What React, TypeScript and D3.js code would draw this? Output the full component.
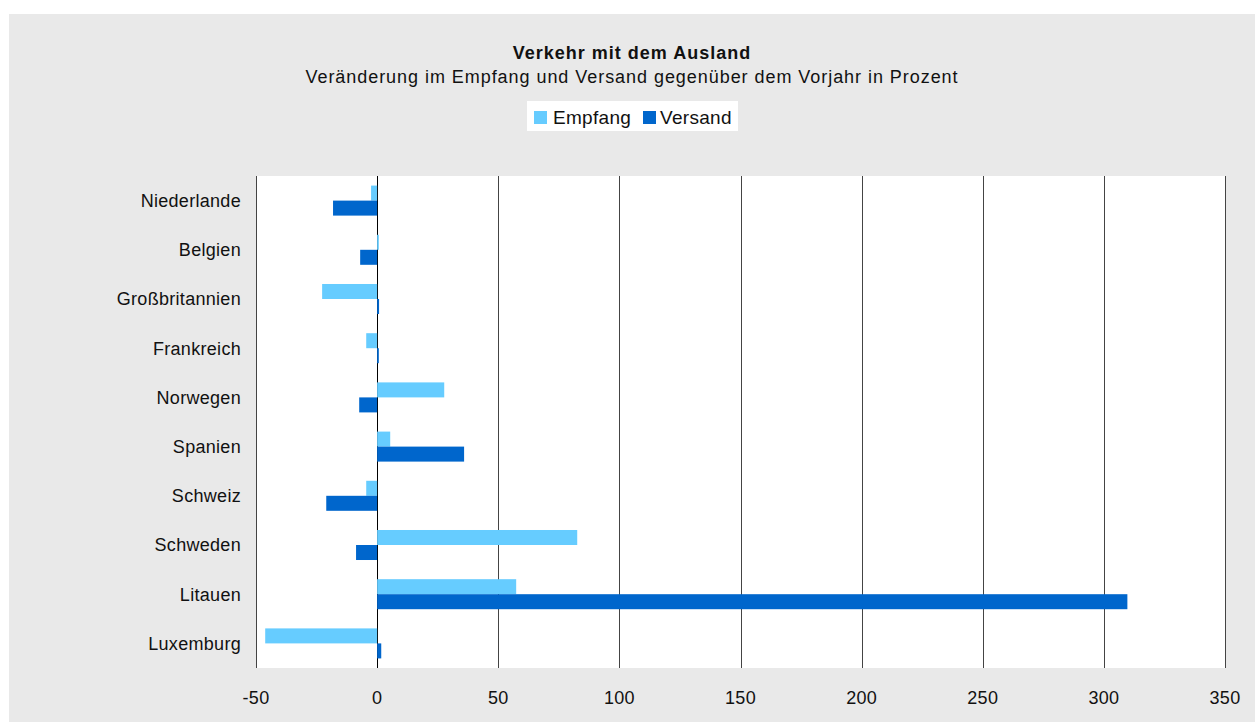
import React, { useEffect, useRef } from 'react';
import * as d3 from 'd3';

const countries = ['Niederlande', 'Belgien', 'Großbritannien', 'Frankreich', 'Norwegen', 'Spanien', 'Schweiz', 'Schweden', 'Litauen', 'Luxemburg'];
const empfang = [-2.5, 0.7, -22.7, -4.5, 27.7, 5.4, -4.5, 82.6, 57.4, -46.2];
const versand = [-18.2, -7.0, 0.8, 0.7, -7.4, 35.9, -21.0, -8.7, 309.7, 1.7];
const ticks = [-50, 0, 50, 100, 150, 200, 250, 300, 350];
const seriesNames = ['Empfang', 'Versand'];
const colors = ['#66ccff', '#0066cc'];

export default function App() {
  const ref = useRef<SVGSVGElement>(null);

  useEffect(() => {
    const width = 1255, height = 722;
    const svg = d3.select(ref.current);
    svg.selectAll('*').remove();
    const font = 'Liberation Sans, Arial, sans-serif';

    // grey panel
    svg.append('rect').attr('x', 9).attr('y', 14).attr('width', width - 9).attr('height', height - 14).attr('fill', '#e9e9e9');

    const left = 256, right = 1225, top = 176, bottom = 668;
    const x = d3.scaleLinear().domain([-50, 350]).range([left, right]);
    const y = d3.scaleBand().domain(countries).range([top, bottom]).paddingInner(0.39).paddingOuter(0.195);
    const sub = d3.scaleBand().domain(seriesNames).range([0, y.bandwidth()]);

    svg.append('rect').attr('x', left).attr('y', top).attr('width', right - left).attr('height', bottom - top).attr('fill', '#fff');

    // grid lines
    svg.append('g').selectAll('line').data(ticks).enter().append('line')
      .attr('x1', d => Math.round(x(d)) + 0.5).attr('x2', d => Math.round(x(d)) + 0.5)
      .attr('y1', top).attr('y2', bottom)
      .attr('stroke', d => d === 0 ? '#000' : '#444').attr('stroke-width', 1);

    // bars
    const data = [empfang, versand];
    data.forEach((vals, si) => {
      svg.append('g').selectAll('rect').data(vals).enter().append('rect')
        .attr('x', d => x(Math.min(0, d)))
        .attr('width', d => Math.abs(x(d) - x(0)))
        .attr('y', (d, i) => (y(countries[i]) as number) + (sub(seriesNames[si]) as number))
        .attr('height', sub.bandwidth())
        .attr('fill', colors[si]);
    });

    // category labels
    svg.append('g').selectAll('text').data(countries).enter().append('text')
      .attr('x', 241).attr('y', d => (y(d) as number) + y.bandwidth() / 2)
      .attr('dy', '0.35em').attr('text-anchor', 'end')
      .style('font-family', font).style('font-size', '18px').style('letter-spacing', '0.3px').attr('fill', '#111')
      .text(d => d);

    // tick labels
    svg.append('g').selectAll('text').data(ticks).enter().append('text')
      .attr('x', d => x(d)).attr('y', 704).attr('text-anchor', 'middle')
      .style('font-family', font).style('font-size', '18px').style('letter-spacing', '0.3px').attr('fill', '#111')
      .text(d => d);

    // titles
    svg.append('text').attr('x', 632).attr('y', 59).attr('text-anchor', 'middle')
      .style('font-family', font).style('font-size', '18px').style('letter-spacing', '1px').style('font-weight', 'bold').attr('fill', '#111')
      .text('Verkehr mit dem Ausland');
    svg.append('text').attr('x', 632).attr('y', 83).attr('text-anchor', 'middle')
      .style('font-family', font).style('font-size', '18px').style('letter-spacing', '0.95px').attr('fill', '#111')
      .text('Veränderung im Empfang und Versand gegenüber dem Vorjahr in Prozent');

    // legend
    const lg = svg.append('g');
    lg.append('rect').attr('x', 527).attr('y', 101).attr('width', 211).attr('height', 30).attr('fill', '#fff');
    const items = [{ x: 534, tx: 553 }, { x: 643, tx: 660 }];
    items.forEach((it, i) => {
      lg.append('rect').attr('x', it.x).attr('y', 111).attr('width', 13).attr('height', 13).attr('fill', colors[i]);
      lg.append('text').attr('x', it.tx).attr('y', 124)
        .style('font-family', font).style('font-size', '19px').style('letter-spacing', '0.3px').attr('fill', '#111')
        .text(seriesNames[i]);
    });
  }, []);

  return (
    <svg ref={ref} width={1255} height={722} style={{ position: 'absolute', left: 0, top: 0 }} />
  );
}
